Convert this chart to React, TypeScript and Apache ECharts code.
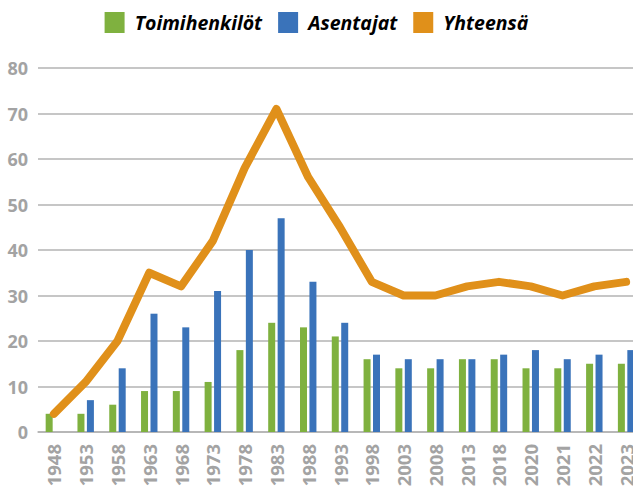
import React, { useEffect, useRef } from "react";
import * as echarts from "echarts";

const categories = ["1948", "1953", "1958", "1963", "1968", "1973", "1978", "1983", "1988", "1993", "1998", "2003", "2008", "2013", "2018", "2020", "2021", "2022", "2023"];
const toimihenkilot = [4, 4, 6, 9, 9, 11, 18, 24, 23, 21, 16, 14, 14, 16, 16, 14, 14, 15, 15];
const asentajat = [0, 7, 14, 26, 23, 31, 40, 47, 33, 24, 17, 16, 16, 16, 17, 18, 16, 17, 18];
const yhteensa = [4, 11, 20, 35, 32, 42, 58, 71, 56, 45, 33, 30, 30, 32, 33, 32, 30, 32, 33];

const FONT = "'Open Sans', 'Noto Sans', sans-serif";
const GRAY = "#a3a3a3";

export default function App() {
  const ref = useRef<HTMLDivElement>(null);
  useEffect(() => {
    if (!ref.current) return;
    const chart = echarts.init(ref.current, null, { renderer: "svg" });
    chart.setOption({
      animation: false,
      backgroundColor: "#ffffff",
      textStyle: { fontFamily: FONT },
      legend: {
        top: 7,
        left: "center",
        itemWidth: 20,
        itemHeight: 21,
        itemGap: 16,
        formatter: (name: string) => " " + name,
        textStyle: { fontFamily: FONT, fontSize: 19.5, fontWeight: "bold", fontStyle: "italic", color: "#000" },
        data: [
          { name: "Toimihenkilöt", icon: "rect" },
          { name: "Asentajat", icon: "rect" },
          { name: "Yhteensä", icon: "rect" },
        ],
      },
      grid: { left: 38, right: -9, top: 68, bottom: 62, containLabel: false, outerBoundsMode: "none" },
      xAxis: {
        type: "category",
        data: categories,
        axisTick: { show: false },
        axisLine: { lineStyle: { color: "#b3b3b3", width: 1.5 } },
        axisLabel: { rotate: 90, margin: 12, color: GRAY, fontSize: 18.5, fontWeight: "bold", fontFamily: FONT, interval: 0 },
      },
      yAxis: {
        type: "value",
        min: 0,
        max: 80,
        interval: 10,
        axisLine: { show: false },
        axisTick: { show: false },
        splitLine: { lineStyle: { color: "#b3b3b3", width: 1.5 } },
        axisLabel: { margin: 10, color: GRAY, fontSize: 18, fontWeight: "bold", fontFamily: FONT },
      },
      series: [
        { name: "Toimihenkilöt", type: "bar", data: toimihenkilot, barWidth: 7, barGap: "35%", itemStyle: { color: "#7fb13f" } },
        { name: "Asentajat", type: "bar", data: asentajat, barWidth: 7, barGap: "35%", itemStyle: { color: "#3a73ba" } },
        {
          name: "Yhteensä",
          type: "line",
          data: yhteensa,
          symbol: "none",
          z: 5,
          itemStyle: { color: "#e0901a" },
          lineStyle: { color: "#e0901a", width: 8, cap: "round", join: "round" },
        },
      ],
    });
    return () => chart.dispose();
  }, []);
  return <div ref={ref} style={{ position: "fixed", left: 0, top: 0, width: 633, height: 494 }} />;
}
